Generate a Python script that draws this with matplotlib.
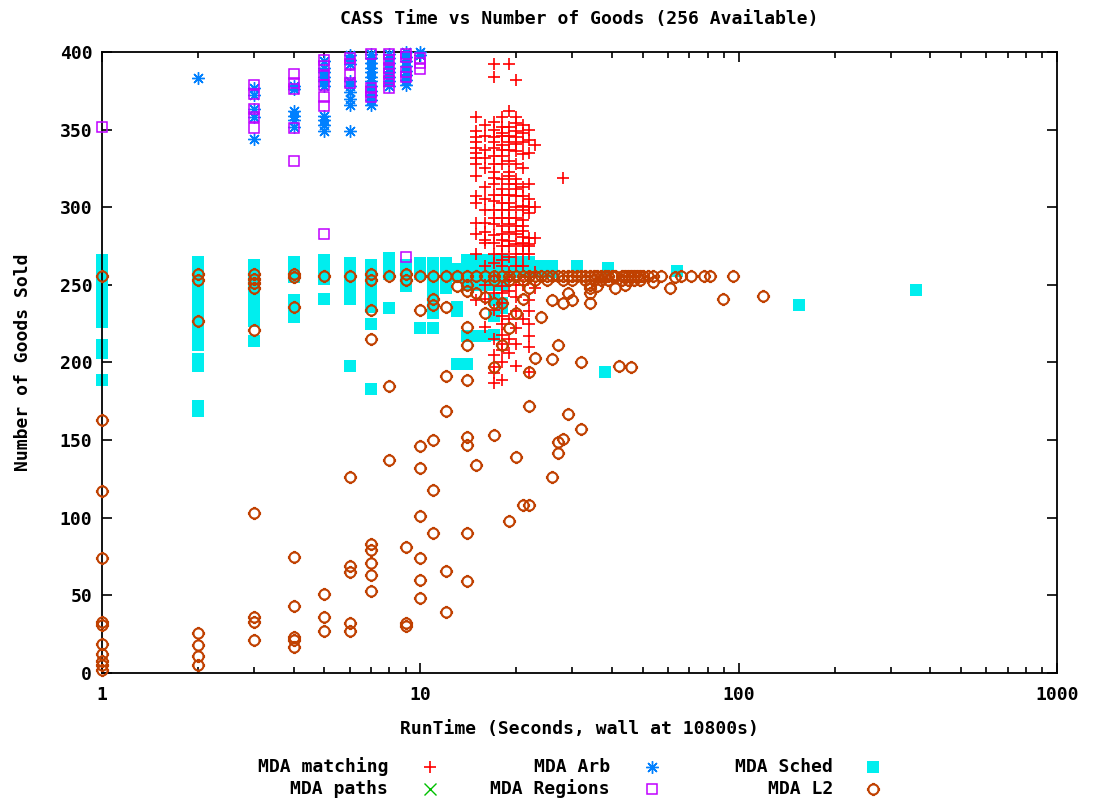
import matplotlib
matplotlib.use('Agg')
import numpy as np
import matplotlib.pyplot as plt
from matplotlib.path import Path
from matplotlib.lines import Line2D

plt.rcParams['font.family'] = ['DejaVu Sans Mono', 'DejaVu Sans']
plt.rcParams['font.weight'] = 'bold'
plt.rcParams['axes.labelweight'] = 'bold'
plt.rcParams['axes.titleweight'] = 'bold'
plt.rcParams['font.size'] = 13
plt.rcParams['path.simplify'] = False

# runtime (s) -> goods sold
matching = {
    15: [358, 349, 345, 342, 338, 335, 332, 328, 320, 307, 303, 290, 283, 270, 240],
    16: [353, 346, 337, 332, 325, 313, 305, 298, 290, 284, 279, 277, 262, 250, 241, 223],
    17: [392, 384, 355, 350, 345, 342, 338, 333, 328, 323, 319, 315, 308, 304, 298, 293, 289,
         282, 277, 270, 264, 256, 245, 234, 215, 205, 197, 193, 187],
    18: [358, 352, 348, 346, 340, 337, 333, 328, 318, 312, 308, 303, 298, 293, 288, 283, 279,
         275, 270, 266, 262, 249, 245, 238, 230, 225, 218, 212, 208, 200, 189],
    19: [392, 362, 352, 346, 342, 337, 330, 323, 320, 315, 308, 303, 298, 293, 289, 284, 278,
         275, 268, 258, 253, 246, 228, 215, 206],
    20: [382, 358, 354, 349, 345, 341, 336, 328, 318, 315, 312, 307, 300, 293, 288, 283, 276,
         270, 262, 250, 242, 233, 222, 212, 198],
    21: [353, 348, 342, 334, 325, 313, 307, 301, 298, 292, 288, 285, 281, 277, 275, 270, 262,
         250, 228],
    22: [350, 343, 335, 315, 305, 300, 296, 280, 276, 275, 270, 255, 240, 233, 225, 217, 210, 194],
    23: [340, 300, 280, 258, 248],
    28: [319],
}
paths = {}
arb = {
    2: [383],
    3: [344, 358, 363, 372, 377],
    4: [352, 356, 359, 362, 376, 378],
    5: [349, 353, 356, 359, 378, 381, 384, 387, 390, 394],
    6: [349, 366, 370, 374, 378, 381, 392, 395, 398],
    7: [366, 369, 372, 375, 378, 381, 384, 387, 390, 393, 396, 399],
    8: [378, 381, 384, 387, 390, 393, 396, 399],
    9: [379, 382, 385, 388, 391, 394, 397, 400],
    10: [398, 400],
}
regions = {
    1: [352],
    3: [351, 358, 363, 373, 379],
    4: [330, 351, 376, 380, 386],
    5: [283, 365, 371, 379, 385, 391, 395],
    6: [380, 385, 392, 396],
    7: [371, 374, 377, 399],
    8: [377, 381, 386, 390, 395, 399],
    9: [268, 384, 387, 397, 399],
    10: [389, 393, 396],
}
sched = {
    1: [189, 206, 211, 226, 230, 234, 238, 242, 246, 250, 254, 258, 262, 266],
    2: [169, 172, 198, 202, 211, 215, 219, 223, 227, 231, 235, 239, 243, 247, 251, 255, 259, 263, 265],
    3: [214, 227, 231, 235, 239, 243, 247, 251, 255, 259, 263],
    4: [229, 233, 237, 240, 255, 259, 263, 265],
    5: [241, 254, 258, 262, 266],
    6: [198, 241, 245, 249, 253, 257, 261, 264],
    7: [183, 225, 236, 240, 244, 248, 252, 256, 260, 263],
    8: [235, 257, 261, 265, 267],
    9: [249, 253, 257, 261, 263],
    10: [222, 257, 261, 264],
    11: [222, 232, 236, 240, 244, 248, 252, 256, 260, 264],
    12: [248, 252, 256, 260, 264],
    13: [199, 233, 236, 256, 260],
    14: [199, 217, 250, 254, 258, 262, 266],
    15: [217, 250, 254, 258, 262, 266],
    16: [217, 250, 254, 258, 262, 266],
    17: [218, 230, 240, 250, 254, 258, 262, 266],
    18: [235, 238, 250, 254, 258, 262, 266],
    19: [258, 262, 265],
    20: [258, 262, 265],
    21: [258, 262, 265],
    22: [258, 262, 265],
    23: [258, 262],
    25: [258, 262],
    26: [258, 262],
    31: [262],
    38: [194],
    39: [261],
    64: [259],
    155: [237],
    360: [247],
}
l2 = {
    1: [256, 163, 117, 74, 33, 31, 19, 12, 8, 5, 2],
    2: [257, 253, 227, 26, 18, 11, 5],
    3: [257, 254, 251, 248, 221, 103, 36, 33, 21],
    4: [257, 255, 236, 75, 43, 23, 21, 17],
    5: [256, 51, 36, 27],
    6: [256, 126, 69, 65, 32, 27],
    7: [257, 253, 234, 215, 83, 79, 71, 63, 53],
    8: [256, 185, 137],
    9: [257, 253, 81, 32, 30],
    10: [256, 234, 146, 132, 101, 74, 60, 48],
    11: [256, 241, 237, 150, 118, 90],
    12: [256, 236, 191, 169, 66, 39],
    13: [256, 249],
    14: [256, 250, 246, 223, 211, 189, 152, 147, 90, 59],
    15: [256, 245, 134],
    16: [256, 242, 232],
    17: [256, 253, 238, 197, 153],
    18: [256, 238, 211],
    19: [256, 253, 222, 98],
    20: [256, 232, 139],
    21: [256, 253, 241, 108],
    22: [256, 248, 194, 172, 108],
    23: [256, 253, 203],
    24: [256, 229],
    25: [256, 253],
    26: [256, 240, 202, 126],
    27: [256, 211, 149, 142],
    28: [256, 253, 238, 151],
    29: [256, 245, 167],
    30: [256, 253, 240],
    31: [256],
    32: [256, 200, 157],
    33: [256, 253],
    34: [256, 250, 248, 245, 238],
    35: [256, 253],
    36: [256, 249],
    37: [256, 253],
    38: [256],
    39: [256, 253],
    40: [256],
    41: [256, 248],
    42: [198],
    43: [256, 253],
    44: [256, 250],
    45: [256, 253],
    46: [256, 197],
    47: [256, 253],
    48: [256],
    49: [256, 253],
    50: [256],
    52: [256],
    54: [256, 252],
    57: [256],
    61: [248],
    63: [255],
    66: [256],
    71: [256],
    78: [256],
    81: [256],
    89: [241],
    96: [256],
    119: [243],
}


def flat(d):
    xs, ys = [], []
    for k, v in d.items():
        xs += [k] * len(v)
        ys += v
    return xs, ys


# gnuplot style ring: a 24-gon with four little ticks sticking out
t = np.linspace(0, 2 * np.pi, 25)
verts = [(np.cos(a), np.sin(a)) for a in t]
codes = [Path.MOVETO] + [Path.LINETO] * 24
for dx, dy in [(0, 1), (0, -1), (1, 0), (-1, 0)]:
    verts += [(dx, dy), (1.3 * dx, 1.3 * dy)]
    codes += [Path.MOVETO, Path.LINETO]
ring = Path(verts, codes)

styles = [
    ('MDA matching', matching, dict(marker='+', color='#ff0000', ms=9, mew=1.2), 4),
    ('MDA Arb', arb, dict(marker=(8, 2, 0), color='#0080ff', ms=9, mew=1.0), 3),
    ('MDA Sched', sched, dict(marker='s', color='#00eeee', ms=8.5, mew=0), 2),
    ('MDA paths', paths, dict(marker='x', color='#00c000', ms=8, mew=1.0), 3),
    ('MDA Regions', regions, dict(marker='s', color='#c000ff', mfc='none', ms=7.5, mew=1.1), 4),
    ('MDA L2', l2, dict(marker=ring, color='#c04000', mfc='none', ms=9.5, mew=1.5), 5),
]

fig = plt.figure(figsize=(10.94, 8.01), dpi=100)
ax = fig.add_axes([0.0932, 0.1598, 0.873, 0.7753])

for name, d, st, z in styles:
    xs, ys = flat(d)
    ax.plot(xs, ys, linestyle='none', zorder=z, clip_on=False, **st)

ax.set_xscale('log')
ax.set_xlim(1, 1000)
ax.set_ylim(0, 400)
ax.set_xticks([1, 10, 100, 1000])
ax.set_xticklabels(['1', '10', '100', '1000'])
ax.set_yticks(range(0, 401, 50))
ax.tick_params(which='both', direction='in', top=True, right=True, width=1.2)
ax.tick_params(which='major', length=7)
ax.tick_params(which='minor', length=4)
ax.tick_params(axis='x', pad=9)
ax.tick_params(axis='y', pad=7)
for s in ax.spines.values():
    s.set_linewidth(1.3)

ax.set_title('CASS Time vs Number of Goods (256 Available)', pad=20, fontsize=13)
ax.set_xlabel('RunTime (Seconds, wall at 10800s)', labelpad=12)
ax.set_ylabel('Number of Goods Sold', labelpad=20)

# key below the plot, filled row by row like gnuplot
text_right = [388, 610, 833]
mark_x = [430, 652, 873]
rows = [767, 789]
for i, (name, d, st, z) in enumerate(styles):
    r, c = divmod(i, 3)
    y = 1 - rows[r] / 801
    fig.text(text_right[c] / 1094, y, name, ha='right', va='center')
    fig.add_artist(Line2D([mark_x[c] / 1094], [y], transform=fig.transFigure, linestyle='none', **st))

fig.savefig('out.png', dpi=100)
